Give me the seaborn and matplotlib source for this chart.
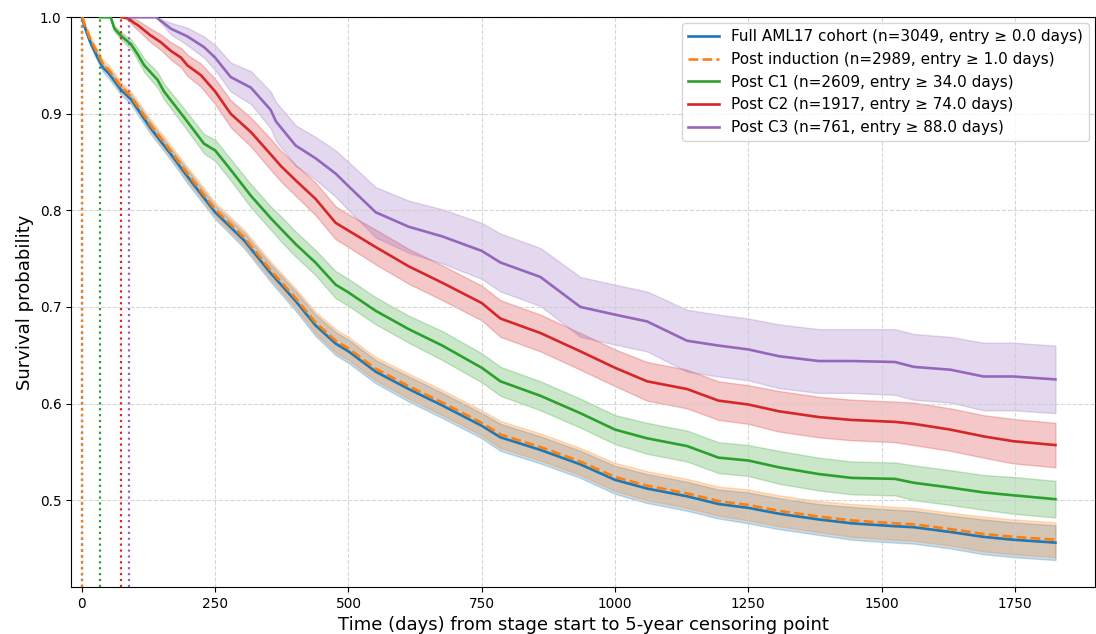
import matplotlib
matplotlib.use("Agg")
import matplotlib.pyplot as plt
import numpy as np
import pandas as pd
import seaborn as sns

# --- data (days, survival, CI half width) ---
labels = [
    "Full AML17 cohort (n=3049, entry \u2265 0.0 days)",
    "Post induction (n=2989, entry \u2265 1.0 days)",
    "Post C1 (n=2609, entry \u2265 34.0 days)",
    "Post C2 (n=1917, entry \u2265 74.0 days)",
    "Post C3 (n=761, entry \u2265 88.0 days)",
]
entry_days = [0.0, 1.0, 34.0, 74.0, 88.0]
colors = ["#1f77b4", "#ff7f0e", "#2ca02c", "#d62728", "#9467bd"]

full_t = [0, 5, 15, 26, 39, 50, 73, 92, 129, 167, 198, 250, 304, 354, 401, 438, 476, 500, 551, 613,
          676, 750, 785, 860, 935, 1000, 1060, 1135, 1194, 1250, 1307, 1382, 1444, 1525, 1560, 1629,
          1691, 1747, 1826]
full_s = [1.0, 0.990, 0.975, 0.962, 0.948, 0.942, 0.925, 0.915, 0.885, 0.858, 0.835, 0.798, 0.769,
          0.735, 0.706, 0.681, 0.662, 0.654, 0.633, 0.615, 0.598, 0.577, 0.565, 0.552, 0.537, 0.521,
          0.512, 0.504, 0.496, 0.492, 0.486, 0.480, 0.476, 0.473, 0.472, 0.467, 0.462, 0.459, 0.456]
full_ci = [0.0, 0.002, 0.003, 0.004, 0.004, 0.005, 0.005, 0.005, 0.006, 0.006, 0.007, 0.007, 0.008,
           0.009, 0.010, 0.011, 0.012, 0.012, 0.012, 0.013, 0.013, 0.013, 0.014, 0.014, 0.014, 0.0145,
           0.015, 0.015, 0.015, 0.016, 0.016, 0.016, 0.017, 0.017, 0.017, 0.017, 0.018, 0.018, 0.018]

ind_t = [1, 6, 16, 27, 40, 51, 73, 92, 129, 167, 198, 250, 304, 354, 401, 438, 476, 500, 551, 613,
         676, 750, 785, 860, 935, 1000, 1060, 1135, 1194, 1250, 1307, 1382, 1444, 1525, 1560, 1629,
         1691, 1747, 1826]
ind_s = [1.0, 0.991, 0.977, 0.965, 0.951, 0.945, 0.928, 0.918, 0.888, 0.861, 0.838, 0.801, 0.772,
         0.738, 0.709, 0.684, 0.665, 0.657, 0.636, 0.618, 0.601, 0.580, 0.568, 0.555, 0.540, 0.524,
         0.515, 0.507, 0.499, 0.495, 0.489, 0.483, 0.479, 0.476, 0.475, 0.470, 0.465, 0.462, 0.459]
ind_ci = [0.0, 0.002, 0.003, 0.004, 0.004, 0.005, 0.005, 0.005, 0.006, 0.006, 0.007, 0.007, 0.008,
          0.009, 0.010, 0.011, 0.012, 0.012, 0.012, 0.013, 0.013, 0.013, 0.014, 0.014, 0.014, 0.0145,
          0.015, 0.015, 0.015, 0.016, 0.016, 0.016, 0.017, 0.017, 0.017, 0.017, 0.018, 0.018, 0.018]

c1_t = [34, 54, 61, 73, 79, 92, 104, 117, 142, 154, 192, 229, 250, 279, 317, 354, 373, 401, 438, 476,
        500, 551, 613, 676, 750, 785, 860, 935, 1000, 1060, 1135, 1194, 1250, 1307, 1382, 1444, 1525,
        1560, 1629, 1691, 1747, 1826]
c1_s = [1.0, 1.0, 0.988, 0.981, 0.978, 0.972, 0.962, 0.950, 0.935, 0.923, 0.896, 0.869, 0.862, 0.842,
        0.815, 0.792, 0.781, 0.765, 0.746, 0.723, 0.715, 0.696, 0.677, 0.660, 0.637, 0.623, 0.608,
        0.590, 0.573, 0.564, 0.556, 0.544, 0.541, 0.534, 0.527, 0.523, 0.522, 0.518, 0.513, 0.508,
        0.505, 0.501]
c1_ci = [0.0, 0.0, 0.003, 0.004, 0.004, 0.005, 0.006, 0.007, 0.008, 0.008, 0.009, 0.010, 0.011, 0.011,
         0.012, 0.012, 0.013, 0.013, 0.013, 0.014, 0.014, 0.014, 0.014, 0.015, 0.015, 0.015, 0.015,
         0.015, 0.015, 0.016, 0.016, 0.016, 0.016, 0.017, 0.017, 0.017, 0.017, 0.018, 0.018, 0.018,
         0.019, 0.019]

c2_t = [74, 86, 98, 104, 129, 148, 167, 186, 198, 223, 250, 279, 317, 354, 373, 401, 438, 476, 500,
        551, 613, 676, 750, 785, 860, 935, 1000, 1060, 1135, 1194, 1250, 1307, 1382, 1444, 1525, 1560,
        1629, 1691, 1747, 1826]
c2_s = [1.0, 0.999, 0.994, 0.992, 0.981, 0.974, 0.965, 0.958, 0.950, 0.940, 0.923, 0.900, 0.881, 0.858,
        0.846, 0.831, 0.812, 0.787, 0.779, 0.762, 0.742, 0.725, 0.704, 0.688, 0.673, 0.654, 0.637,
        0.623, 0.615, 0.603, 0.599, 0.592, 0.586, 0.583, 0.581, 0.579, 0.573, 0.566, 0.561, 0.557]
c2_ci = [0.0, 0.002, 0.004, 0.005, 0.007, 0.008, 0.009, 0.010, 0.011, 0.012, 0.013, 0.014, 0.015,
         0.016, 0.016, 0.016, 0.017, 0.017, 0.017, 0.018, 0.018, 0.018, 0.018, 0.019, 0.019, 0.019,
         0.019, 0.020, 0.020, 0.020, 0.020, 0.021, 0.021, 0.021, 0.021, 0.022, 0.022, 0.022, 0.023,
         0.023]

c3_t = [88, 139, 167, 198, 229, 250, 279, 317, 354, 364, 401, 438, 476, 500, 551, 613, 676, 750, 785,
        860, 935, 1000, 1060, 1135, 1194, 1250, 1307, 1382, 1444, 1525, 1560, 1629, 1691, 1747, 1826]
c3_s = [1.0, 1.0, 0.988, 0.980, 0.969, 0.958, 0.938, 0.927, 0.904, 0.892, 0.867, 0.854, 0.838, 0.825,
        0.798, 0.783, 0.773, 0.758, 0.746, 0.731, 0.700, 0.692, 0.685, 0.665, 0.660, 0.656, 0.649,
        0.644, 0.644, 0.643, 0.638, 0.635, 0.628, 0.628, 0.625]
c3_ci = [0.0, 0.0, 0.006, 0.009, 0.011, 0.013, 0.015, 0.017, 0.019, 0.020, 0.021, 0.022, 0.024, 0.025,
         0.026, 0.027, 0.028, 0.029, 0.030, 0.030, 0.031, 0.031, 0.031, 0.032, 0.032, 0.032, 0.033,
         0.033, 0.033, 0.034, 0.034, 0.034, 0.035, 0.035, 0.035]

series = [
    (full_t, full_s, full_ci),
    (ind_t, ind_s, ind_ci),
    (c1_t, c1_s, c1_ci),
    (c2_t, c2_s, c2_ci),
    (c3_t, c3_s, c3_ci),
]
styles = ["-", "--", "-", "-", "-"]

fig, ax = plt.subplots(figsize=(10.96, 6.34), dpi=100)
plt.subplots_adjust(left=0.065, right=0.999, top=0.973, bottom=0.074)

for (t, s, ci), lab, col, ls, e in zip(series, labels, colors, styles, entry_days):
    df = pd.DataFrame({"t": t, "s": s, "ci": ci})
    lo = np.clip(df.s - df.ci, 0, 1)
    hi = np.clip(df.s + df.ci, 0, 1)
    ax.fill_between(df.t, lo, hi, color=col, alpha=0.25, lw=1)
    sns.lineplot(data=df, x="t", y="s", ax=ax, color=col, linestyle=ls, lw=1.9,
                 label=lab, estimator=None, sort=False, zorder=3)
    ax.axvline(e, color=col, ls=":", lw=1.6, zorder=2)

ax.set_xlim(-20, 1900)
ax.set_ylim(0.41, 1.0)
ax.set_xlabel("Time (days) from stage start to 5-year censoring point", fontsize=13)
ax.set_ylabel("Survival probability", fontsize=13)
ax.tick_params(labelsize=9.8)
ax.grid(True, ls="--", color="#cccccc", lw=0.8, alpha=0.8)
ax.legend(loc="upper right", fontsize=11, borderaxespad=0.4)

plt.savefig("out.png", dpi=100)
